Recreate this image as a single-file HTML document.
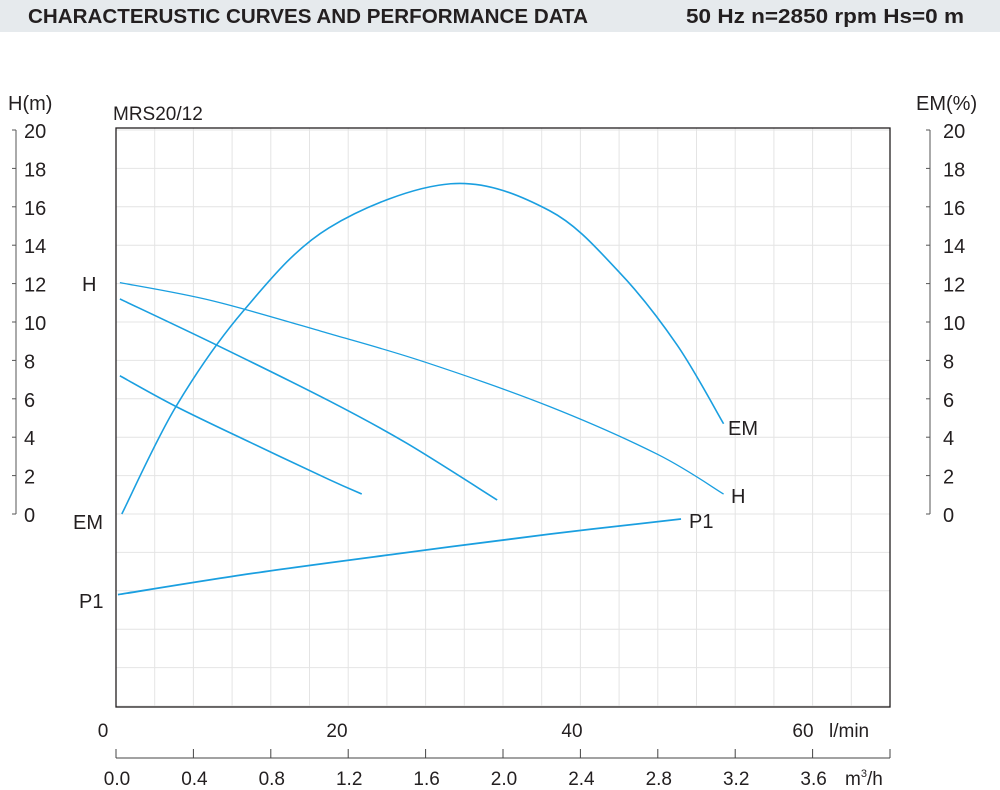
<!DOCTYPE html>
<html><head><meta charset="utf-8"><style>
html,body{margin:0;padding:0;background:#fff;}
svg{display:block;font-family:"Liberation Sans",sans-serif;}
</style></head><body>
<svg id="chart" width="1000" height="790" viewBox="0 0 1000 790" xmlns="http://www.w3.org/2000/svg">
<rect x="0" y="0" width="1000" height="32" fill="#e6eaed"/>
<text x="28" y="23" font-size="20" font-weight="bold" fill="#231f20" textLength="560" lengthAdjust="spacingAndGlyphs">CHARACTERUSTIC CURVES AND PERFORMANCE DATA</text>
<text x="686" y="23" font-size="20" font-weight="bold" fill="#231f20" textLength="278" lengthAdjust="spacingAndGlyphs">50 Hz  n=2850  rpm  Hs=0 m</text>
<text x="8" y="110" font-size="20" fill="#231f20">H(m)</text>
<text x="916" y="110" font-size="20" fill="#231f20">EM(%)</text>
<text x="113" y="120" font-size="19" fill="#231f20">MRS20/12</text>
<g id="grid"></g>
<rect x="116" y="128" width="774" height="579" fill="none" stroke="#231f20" stroke-width="1.3"/>
<g id="axes"></g>
<g id="curves"></g>
<text x="82" y="291" font-size="20" fill="#231f20">H</text>
<text x="73" y="529" font-size="20" fill="#231f20">EM</text>
<text x="79" y="608" font-size="20" fill="#231f20">P1</text>
<text x="728" y="435" font-size="20" fill="#231f20">EM</text>
<text x="731" y="503" font-size="20" fill="#231f20">H</text>
<text x="689" y="528" font-size="20" fill="#231f20">P1</text>
</svg>
<script>
// data (flow in m3/h, head in m, efficiency in %, P1 in relative units on head scale)
const yTicks=[0,2,4,6,8,10,12,14,16,18,20];
const m3hTicks=["0.0","0.4","0.8","1.2","1.6","2.0","2.4","2.8","3.2","3.6"];
const lminTicks=["0","20","40","60"];
const h1Q=[0.02,0.5,1.1,1.6,2.24,2.8,3.14];
const h1V=[12.05,11.1,9.4,7.9,5.6,3.1,1.04];
const h2Q=[0.02,0.52,1.1,1.5,1.97];
const h2V=[11.2,8.8,5.9,3.7,0.73];
const h3Q=[0.02,0.31,0.7,1.1,1.27];
const h3V=[7.2,5.6,3.7,1.8,1.04];
const emQ=[0.03,0.31,0.66,1.1,1.73,2.24,2.6,2.9,3.14];
const emV=[0,5.6,10.6,14.9,17.2,15.8,12.6,8.8,4.7];
const p1Q=[0.01,0.7,1.47,2.24,2.92];
const p1V=[-4.2,-3.1,-2.05,-1.05,-0.26];
const NS="http://www.w3.org/2000/svg";
const X=q=>116+q*193.5;
const Y=v=>514-v*19.2;
function mk(tag,attrs,parent){const e=document.createElementNS(NS,tag);for(const k in attrs)e.setAttribute(k,attrs[k]);parent.appendChild(e);return e;}
const grid=document.getElementById('grid'),axes=document.getElementById('axes'),curves=document.getElementById('curves');
for(let i=1;i<20;i++){const l=mk('line',{x1:X(i*0.2),x2:X(i*0.2),y1:128,y2:707,stroke:'#e4e4e4','stroke-width':1},grid);

}
for(let v=-10;v<=20;v+=2){const l=mk('line',{x1:116,x2:890,y1:Y(v),y2:Y(v),stroke:'#e4e4e4','stroke-width':1},grid);

}
[[16,12,24],[930,926,943]].forEach(([ax,tx,lx],side)=>{
 const a=mk('line',{x1:ax,x2:ax,y1:Y(20),y2:Y(0),stroke:'#555','stroke-width':1},axes);
 
 
 yTicks.forEach(v=>{const t=mk('line',{x1:tx,x2:ax,y1:Y(v),y2:Y(v),stroke:'#555'},axes);
 
 
 const s=mk('text',{x:lx,y:Y(v)+8,'font-size':20,fill:'#231f20'},axes);s.textContent=v;
 
 });
});
const lminX=[103,337,572,803];
lminTicks.forEach((t,i)=>{const s=mk('text',{x:lminX[i],y:737,'font-size':19,fill:'#231f20','text-anchor':'middle'},axes);s.textContent=t;

});
const u1=mk('text',{x:829,y:737,'font-size':19,fill:'#231f20'},axes);u1.textContent='l/min';


const ba=mk('line',{x1:116,x2:890,y1:758,y2:758,stroke:'#444'},axes);


for(let i=0;i<=10;i++){const t=mk('line',{x1:X(i*0.4),x2:X(i*0.4),y1:749,y2:758,stroke:'#444'},axes);

}
m3hTicks.forEach((t,i)=>{const s=mk('text',{x:X(i*0.4)+1,y:785,'font-size':19,fill:'#231f20','text-anchor':'middle'},axes);s.textContent=t;

});
const u2=mk('text',{x:845,y:785,'font-size':19,fill:'#231f20'},axes);u2.innerHTML='m<tspan dy="-8" font-size="11">3</tspan><tspan dy="8">/h</tspan>';


function path(qs,vs){const p=qs.map((q,i)=>[X(q),Y(vs[i])]);let d='M'+p[0][0]+','+p[0][1];
for(let i=0;i<p.length-1;i++){const p0=p[Math.max(0,i-1)],p1=p[i],p2=p[i+1],p3=p[Math.min(p.length-1,i+2)];
d+=' C'+(p1[0]+(p2[0]-p0[0])/6)+','+(p1[1]+(p2[1]-p0[1])/6)+' '+(p2[0]-(p3[0]-p1[0])/6)+','+(p2[1]-(p3[1]-p1[1])/6)+' '+p2[0]+','+p2[1];}
return d;}
[[h1Q,h1V,'h-curve-max',1.3],[h2Q,h2V,'h-curve-mid',1.6],[h3Q,h3V,'h-curve-min',1.6],[emQ,emV,'em-curve',1.6],[p1Q,p1V,'p1-curve',1.8]].forEach(([q,v,n,w])=>{
 const e=mk('path',{d:path(q,v),fill:'none',stroke:'#1a9fe0','stroke-width':w},curves);
 
 
});
</script>
</body></html>
